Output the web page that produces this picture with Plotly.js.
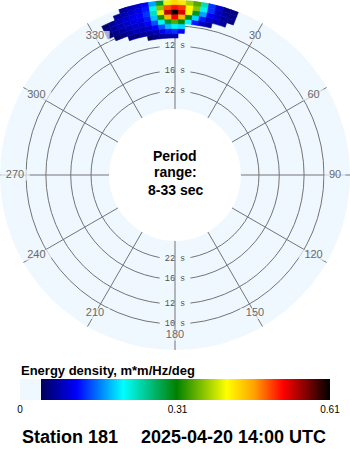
<!DOCTYPE html>
<html><head><meta charset="utf-8">
<script src="https://cdn.plot.ly/plotly-3.0.1.min.js"></script>
<style>html,body{margin:0;padding:0;background:#fff;overflow:hidden}#chart{width:350px;height:450px}</style>
</head><body><div id="chart"></div>
<script>
// ---- data ----
// direction bins (deg, centre of 2.5 deg bins, clockwise from north)
const directions = [335,337.5,340,342.5,345,347.5,350,352.5,355,357.5,0,2.5,5,7.5,10,12.5,15,17.5,20];
// frequency bins (Hz, lower edges of 0.004 Hz bins)
const freqLow = [0.090,0.094,0.098,0.102,0.106,0.110,0.114,0.118];
// energy density m*m/Hz/deg, one row per direction bin, one column per frequency bin
const energyDensity = [
  [0,0,0,0.05,0.06,0.05,0,0],
  [0,0,0.05,0.06,0.07,0.07,0,0],
  [0,0,0.06,0.07,0.08,0.08,0.07,0],
  [0,0.06,0.07,0.08,0.09,0.09,0.08,0.07],
  [0,0.06,0.08,0.09,0.10,0.10,0.09,0.08],
  [0,0.07,0.08,0.09,0.10,0.11,0.10,0.09],
  [0.05,0.07,0.09,0.11,0.12,0.13,0.12,0.11],
  [0.06,0.08,0.11,0.14,0.18,0.23,0.21,0.17],
  [0.07,0.10,0.14,0.21,0.32,0.40,0.36,0.29],
  [0.07,0.12,0.18,0.29,0.45,0.54,0.49,0.40],
  [0.08,0.13,0.21,0.34,0.52,0.61,0.51,0.43],
  [0,0.11,0.19,0.31,0.45,0.53,0.50,0.42],
  [0,0,0,0.20,0.30,0.41,0.41,0.37],
  [0,0,0,0.12,0.19,0.29,0.36,0.34],
  [0,0,0,0.09,0.12,0.17,0.21,0.23],
  [0,0,0,0.07,0.09,0.11,0.13,0.13],
  [0,0,0,0,0.08,0.09,0.09,0.09],
  [0,0,0,0,0.07,0.07,0.07,0.06],
  [0,0,0,0,0,0.06,0.06,0.06]
];
const periodMin = 8, periodMax = 33;           // sec
const periodTicks = [22,16,12,10];             // sec, grid circles
const periodLabelsTop = [22,16,12];
const periodLabelsBottom = [22,16,12,10];
const angleTicks = [30,60,90,120,150,180,210,240,270,300,330];
const angleLabels = ['30','60','90','120','150','180','210','240','270','300','330'];
const cbTickVals = [0,0.31,0.61];
const cbTickText = ['0','0.31','0.61'];
const titleText = 'Station 181';
const dateText = '2025-04-20 14:00 UTC';
const cbTitle = 'Energy density, m*m/Hz/deg';

// ---- styles ----
const BG = '#f0f8ff', GRID = '#747474';
const FONT = 'Liberation Sans, Arial, sans-serif';
const fStep = 0.004, dStep = 2.5;
const fMax = 0.12185;
const cmax = 0.61;
const cs = [[0,BG],[0.0675,BG],[0.0676,'#00005a'],[0.183,'#0000ff'],[0.333,'#00ffff'],
            [0.505,'#008000'],[0.667,'#ffff00'],[0.753,'#ffa500'],[0.849,'#ff0000'],[1,'#000000']];

const th=[], base=[], len=[], val=[];
directions.forEach((d,i)=>freqLow.forEach((f,j)=>{
  const v = energyDensity[i][j];
  if(v>0){th.push(d); base.push(f); len.push(fStep); val.push(v);}
}));

const labelR = 0.10926;
const traces = [
  {type:'barpolar', theta:th, base:base, r:len, width:dStep, hoverinfo:'skip',
   marker:{color:val, colorscale:cs, cmin:0, cmax:cmax,
     line:{width:0.6, color:val, colorscale:cs, cmin:0, cmax:cmax},
     showscale:true,
     colorbar:{orientation:'h', x:0.5, xanchor:'center', xref:'paper', y:1-379/450, yanchor:'top',
       len:310, lenmode:'pixels', thickness:21, outlinewidth:0, xpad:0, ypad:0,
       tickmode:'array', tickvals:cbTickVals, ticktext:cbTickText, ticks:'',
       tickfont:{size:10, color:'#000', family:FONT}}}},
  // background under angle labels
  {type:'scatterpolar', mode:'markers+text', theta:angleTicks, r:angleTicks.map(()=>labelR),
   text:angleLabels, textposition:'middle center', hoverinfo:'skip',
   marker:{symbol:'line-ew', size:angleLabels.map(t=>t.length*6+3), color:BG, line:{color:BG, width:11}},
   textfont:{size:11, color:'#6a6a6a', family:FONT}},
];
// period labels
const pTheta=[], pR=[], pText=[];
periodLabelsTop.forEach(p=>{pTheta.push(0); pR.push(1/p); pText.push(p+' s');});
periodLabelsBottom.forEach(p=>{pTheta.push(180); pR.push(1/p); pText.push(p+' s');});
traces.push({type:'scatterpolar', mode:'markers', theta:pTheta, r:pR, hoverinfo:'skip',
  marker:{symbol:'line-ew', size:22, color:BG, line:{color:BG, width:7}}});
const sTheta=[], sR=[];
pTheta.forEach((t,i)=>{sTheta.push(t,t,null); sR.push(pR[i]-0.003,pR[i]+0.003,null);});
traces.push({type:'scatterpolar', mode:'lines', theta:sTheta, r:sR, hoverinfo:'skip',
  line:{color:GRID, width:1}});
traces.push({type:'scatterpolar', mode:'text', theta:pTheta, r:pR, text:pText, textposition:'middle center',
  hoverinfo:'skip', textfont:{size:8.5, color:'#505050', family:'Liberation Mono, DejaVu Sans Mono, monospace'}});

const ann = (text, xpx, ypx, size, xanchor) => ({text:'<b>'+text+'</b>', x:xpx/350, y:1-ypx/450,
  xref:'paper', yref:'paper', xanchor:xanchor||'center', yanchor:'middle', showarrow:false,
  font:{size:size, color:'#000', family:FONT}});

const layout = {
  width:350, height:450, margin:{l:0,r:0,t:0,b:0}, paper_bgcolor:'#fff', showlegend:false,
  polar:{
    domain:{x:[0,1], y:[1-350/450,1]},
    bgcolor:BG, hole:0.3766,
    angularaxis:{direction:'clockwise', rotation:90, tickmode:'linear', tick0:0, dtick:30,
      showticklabels:false, ticks:'', showline:false, gridcolor:GRID, gridwidth:1},
    radialaxis:{range:[1/periodMax, fMax], autorange:false, tickmode:'array', tickvals:periodTicks.map(p=>1/p),
      showticklabels:false, ticks:'', showline:false, gridcolor:GRID, gridwidth:1}
  },
  annotations:[
    ann('Period', 175, 156, 14),
    ann('range:', 175, 172, 14),
    ann(periodMin+'-'+periodMax+' sec', 175, 190, 14),
    ann(cbTitle, 19, 370, 13, 'left'),
    ann(titleText, 20, 437, 18, 'left'),
    ann(dateText, 328, 437, 18, 'right')
  ]
};
Plotly.newPlot('chart', traces, layout, {staticPlot:true, displayModeBar:false});
</script></body></html>
